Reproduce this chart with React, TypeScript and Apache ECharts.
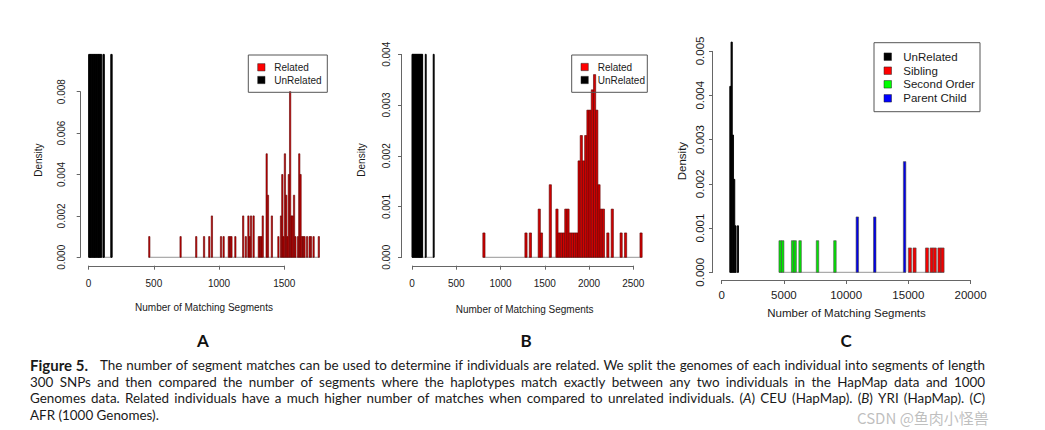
import React, { useEffect, useRef } from "react";
import * as echarts from "echarts";

// ---------- Panel A: CEU (HapMap) histogram bins [start, end, density] ----------
const aUnrelated = [
  [0, 10, 0.0098], [10, 20, 0.0098], [20, 30, 0.0098], [30, 40, 0.0098], [40, 50, 0.0098],
  [50, 60, 0.0098], [60, 70, 0.0098], [70, 80, 0.0098], [80, 90, 0.0098], [90, 100, 0.0098],
  [110, 120, 0.0098], [170, 180, 0.0098],
];
const aUnrelatedRange = [0, 180];
const aRelated = [
  [460, 470, 0.001], [700, 710, 0.001], [820, 830, 0.001], [880, 890, 0.001], [920, 930, 0.001],
  [940, 950, 0.002], [1010, 1020, 0.001], [1030, 1040, 0.001], [1070, 1080, 0.001], [1080, 1090, 0.001],
  [1090, 1100, 0.001], [1120, 1130, 0.001], [1180, 1190, 0.002], [1200, 1210, 0.001], [1220, 1230, 0.002],
  [1230, 1240, 0.001], [1240, 1250, 0.002], [1260, 1270, 0.002], [1300, 1310, 0.001], [1310, 1320, 0.001],
  [1320, 1330, 0.001], [1330, 1340, 0.002], [1360, 1370, 0.005], [1370, 1380, 0.003], [1400, 1410, 0.002],
  [1450, 1460, 0.001], [1470, 1480, 0.002], [1480, 1490, 0.004], [1490, 1500, 0.001], [1500, 1510, 0.005],
  [1510, 1520, 0.003], [1520, 1530, 0.001], [1530, 1540, 0.004], [1540, 1550, 0.008], [1550, 1560, 0.002],
  [1560, 1570, 0.002], [1570, 1580, 0.003], [1580, 1590, 0.001], [1600, 1610, 0.001], [1610, 1620, 0.005],
  [1620, 1630, 0.004], [1630, 1640, 0.001], [1640, 1650, 0.001], [1650, 1660, 0.001], [1670, 1680, 0.001],
  [1690, 1700, 0.001], [1700, 1710, 0.001], [1720, 1730, 0.001], [1760, 1770, 0.001],
];
const aRelatedRange = [460, 1770];
const aXTicks = [0, 500, 1000, 1500];
const aYTicks = [0, 0.002, 0.004, 0.006, 0.008];

// ---------- Panel B: YRI (HapMap) ----------
const bUnrelated = [
  [0, 10, 0.004], [10, 20, 0.004], [20, 30, 0.004], [30, 40, 0.004], [40, 50, 0.004], [50, 60, 0.004],
  [60, 70, 0.004], [70, 80, 0.004], [80, 90, 0.004], [90, 100, 0.004], [100, 110, 0.004], [110, 120, 0.004],
  [150, 160, 0.004], [240, 250, 0.004],
];
const bUnrelatedRange = [0, 250];
const bRelated = [
  [800, 825, 0.00048], [1275, 1300, 0.00048], [1325, 1350, 0.00048], [1425, 1450, 0.00095], [1450, 1475, 0.00048],
  [1550, 1575, 0.00143], [1625, 1650, 0.00095], [1650, 1675, 0.00048], [1675, 1700, 0.00048], [1700, 1725, 0.00048],
  [1725, 1750, 0.00095], [1750, 1775, 0.00095], [1775, 1800, 0.00048], [1800, 1825, 0.00048], [1825, 1850, 0.00048],
  [1850, 1875, 0.00048], [1875, 1900, 0.0019], [1900, 1925, 0.0024], [1925, 1950, 0.0019], [1950, 1975, 0.0024],
  [1975, 2000, 0.0029], [2000, 2025, 0.0029], [2025, 2050, 0.0033], [2050, 2075, 0.0036], [2075, 2100, 0.0029],
  [2100, 2125, 0.00143], [2125, 2150, 0.00095], [2150, 2175, 0.00095], [2200, 2225, 0.00048], [2250, 2275, 0.00095],
  [2350, 2375, 0.00048], [2400, 2425, 0.00048], [2575, 2600, 0.00048],
];
const bRelatedRange = [800, 2600];
const bXTicks = [0, 500, 1000, 1500, 2000, 2500];
const bYTicks = [0, 0.001, 0.002, 0.003, 0.004];

// ---------- Panel C: AFR (1000 Genomes) ----------
const cUnrelated = [
  [650, 750, 0.0042], [750, 850, 0.0052], [850, 950, 0.0031], [950, 1050, 0.0021],
  [1050, 1150, 0.00105], [1250, 1350, 0.00105],
];
const cUnrelatedRange = [650, 1350];
const cSecondOrder = [
  [4600, 4800, 0.000714], [4800, 5000, 0.000714], [5600, 5800, 0.000714], [5800, 6000, 0.000714],
  [6200, 6400, 0.000714], [7600, 7800, 0.000714], [9000, 9200, 0.000714],
];
const cSecondOrderRange = [4600, 9200];
const cParentChild = [
  [10800, 11000, 0.00125], [12200, 12400, 0.00125], [14600, 14800, 0.0025],
];
const cParentChildRange = [9000, 14800];
const cSibling = [
  [15000, 15250, 0.00055], [15375, 15625, 0.00055], [16375, 16625, 0.00055], [16750, 17000, 0.00055],
  [17000, 17250, 0.00055], [17375, 17625, 0.00055], [17625, 17875, 0.00055],
];
const cSiblingRange = [15000, 17875];
const cXTicks = [0, 5000, 10000, 15000, 20000];
const cYTicks = [0, 0.001, 0.002, 0.003, 0.004, 0.005];

// ---------- Text ----------
const legendAB = ["Related", "UnRelated"];
const legendC = ["UnRelated", "Sibling", "Second Order", "Parent Child"];
const panelLetters = ["A", "B", "C"];
const xTitle = "Number of Matching Segments";
const yTitle = "Density";
const captionBold = "Figure 5.";
const captionLines = [
  "The number of segment matches can be used to determine if individuals are related. We split the genomes of each individual into segments of length",
  "300 SNPs and then compared the number of segments where the haplotypes match exactly between any two individuals in the HapMap data and 1000",
  "Genomes data. Related individuals have a much higher number of matches when compared to unrelated individuals. (A) CEU (HapMap). (B) YRI (HapMap). (C)",
  "AFR (1000 Genomes).",
];
const watermark = "CSDN @鱼肉小怪兽";

const RFONT = '"Liberation Sans", Arial, Helvetica, sans-serif';
const CFONT = 'Lato, "Open Sans", sans-serif';
const AXIS_COLOR = "#666";
const TEXT_COLOR = "#1a1a1a";

function histSeries(bins: number[][], idx: number, fill: string, stroke: string, lw: number) {
  return {
    type: "custom",
    xAxisIndex: idx,
    yAxisIndex: idx,
    z: 3,
    silent: true,
    data: bins,
    encode: { x: [0, 1], y: 2 },
    renderItem: (params: any, api: any) => {
      const lo = api.coord([api.value(0), 0]);
      const hi = api.coord([api.value(1), api.value(2)]);
      const cs = params.coordSys;
      const shape = echarts.graphic.clipRectByRect(
        { x: lo[0], y: hi[1], width: hi[0] - lo[0], height: lo[1] - hi[1] },
        { x: cs.x, y: cs.y, width: cs.width, height: cs.height }
      );
      if (!shape) return null;
      return { type: "rect", shape, style: { fill, stroke, lineWidth: lw } };
    },
  };
}

function baseSeries(range: number[], idx: number) {
  return {
    type: "custom",
    xAxisIndex: idx,
    yAxisIndex: idx,
    z: 2,
    silent: true,
    data: [range],
    encode: { x: [0, 1] },
    renderItem: (_p: any, api: any) => {
      const a = api.coord([api.value(0), 0]);
      const b = api.coord([api.value(1), 0]);
      return {
        type: "line",
        shape: { x1: a[0], y1: a[1], x2: b[0], y2: b[1] },
        style: { stroke: "#8a8a8a", lineWidth: 0.9 },
      };
    },
  };
}

function axisSeries(idx: number, xt: number[], yt: number[]) {
  return {
    type: "custom",
    xAxisIndex: idx,
    yAxisIndex: idx,
    z: 4,
    silent: true,
    clip: false,
    data: [[xt[0], xt[xt.length - 1], yt[0], yt[yt.length - 1]]],
    encode: { x: [0, 1], y: [2, 3] },
    renderItem: (params: any, api: any) => {
      const cs = params.coordSys;
      const bottom = Math.round(cs.y + cs.height) + 0.5;
      const left = Math.round(cs.x) - 0.5;
      const xa = api.coord([api.value(0), api.value(2)])[0];
      const xb = api.coord([api.value(1), api.value(2)])[0];
      const ya = api.coord([api.value(0), api.value(2)])[1];
      const yb = api.coord([api.value(0), api.value(3)])[1];
      return {
        type: "group",
        children: [
          { type: "line", shape: { x1: xa, y1: bottom, x2: xb, y2: bottom }, style: { stroke: AXIS_COLOR, lineWidth: 1 } },
          { type: "line", shape: { x1: left, y1: ya, x2: left, y2: yb }, style: { stroke: AXIS_COLOR, lineWidth: 1 } },
        ],
      };
    },
  };
}

function xAxisCfg(idx: number, min: number, max: number, ticks: number[], fs: number, margin: number, gap: number) {
  return {
    gridIndex: idx,
    type: "value",
    min,
    max,
    axisLine: { show: false, onZero: false },
    axisTick: { show: true, customValues: ticks, length: 4, lineStyle: { color: AXIS_COLOR, width: 1 } },
    axisLabel: {
      customValues: ticks,
      margin,
      fontSize: fs,
      fontFamily: RFONT,
      color: TEXT_COLOR,
      formatter: (v: number) => String(v),
    },
    splitLine: { show: false },
    name: xTitle,
    nameLocation: "middle",
    nameGap: gap,
    nameTextStyle: { fontSize: fs, fontFamily: RFONT, color: TEXT_COLOR },
  };
}

function yAxisCfg(idx: number, min: number, max: number, ticks: number[], fs: number, margin: number, gap: number) {
  return {
    gridIndex: idx,
    type: "value",
    min,
    max,
    axisLine: { show: false, onZero: false },
    axisTick: { show: true, customValues: ticks, length: 4, lineStyle: { color: AXIS_COLOR, width: 1 } },
    axisLabel: {
      customValues: ticks,
      rotate: 90,
      margin,
      fontSize: fs,
      fontFamily: RFONT,
      color: TEXT_COLOR,
      formatter: (v: number) => v.toFixed(3),
    },
    splitLine: { show: false },
    name: yTitle,
    nameLocation: "middle",
    nameRotate: 90,
    nameGap: gap,
    nameTextStyle: { fontSize: fs, fontFamily: RFONT, color: TEXT_COLOR },
  };
}

function legendEls(box: number[], swX: number, sw: number, txtX: number, rows: number[], names: string[], colors: string[], fs: number) {
  const els: any[] = [
    { type: "rect", shape: { x: box[0], y: box[1], width: box[2], height: box[3] }, style: { fill: "none", stroke: "#555", lineWidth: 1 }, z: 10 },
  ];
  names.forEach((n, i) => {
    els.push({ type: "rect", shape: { x: swX, y: rows[i] - sw / 2, width: sw, height: sw }, style: { fill: colors[i], stroke: "#222", lineWidth: 0.5 }, z: 10 });
    els.push({ type: "text", x: txtX, y: rows[i], style: { text: n, fontSize: fs, fontFamily: RFONT, fill: TEXT_COLOR, verticalAlign: "middle", align: "left" }, z: 10 });
  });
  return els;
}

function captionEls() {
  const canvas = document.createElement("canvas");
  const ctx = canvas.getContext("2d") as CanvasRenderingContext2D;
  const fontOf = (size: number, italic: boolean, bold = false) =>
    `${italic ? "italic " : ""}${bold ? 700 : 400} ${size}px ${CFONT}`;
  const measureAt = (size: number, t: string, italic: boolean, bold = false) => {
    ctx.font = fontOf(size, italic, bold);
    return ctx.measureText(t).width;
  };
  const ys = [365, 381.5, 398, 414.5];
  const x0 = 30;
  const x1 = 985;
  const boldSize = 15;
  const boldW = measureAt(boldSize, captionBold, false, true);
  const firstStart = x0 + boldW + 12;

  let ratio = Infinity;
  captionLines.slice(0, captionLines.length - 1).forEach((line, li) => {
    const start = li === 0 ? firstStart : x0;
    const w = measureAt(10, line, false);
    ratio = Math.min(ratio, ((x1 - start) * 0.985) / w);
  });
  const size = Math.min(13.5, 10 * ratio);
  const measure = (t: string, italic: boolean) => measureAt(size, t, italic);

  const els: any[] = [
    { type: "text", x: x0, y: ys[0], style: { text: captionBold, fontSize: boldSize, fontWeight: "bold", fontFamily: CFONT, fill: TEXT_COLOR, verticalAlign: "middle" } },
  ];
  captionLines.forEach((line, li) => {
    const words = line.split(" ");
    const segsOf = (w: string) => {
      const m = /^\(([A-Z])\)$/.exec(w);
      if (m) return [{ t: "(", i: false }, { t: m[1], i: true }, { t: ")", i: false }];
      return [{ t: w, i: false }];
    };
    const wordSegs = words.map(segsOf);
    const widths = wordSegs.map((s) => s.reduce((acc, g) => acc + measure(g.t, g.i), 0));
    const total = widths.reduce((a, b) => a + b, 0);
    const start = li === 0 ? firstStart : x0;
    const justify = li < captionLines.length - 1;
    const gap = justify ? (x1 - start - total) / (words.length - 1) : measure(" ", false);
    let x = start;
    wordSegs.forEach((segs, wi) => {
      let sx = x;
      segs.forEach((g) => {
        els.push({
          type: "text",
          x: sx,
          y: ys[li],
          style: { text: g.t, fontSize: size, fontStyle: g.i ? "italic" : "normal", fontFamily: CFONT, fill: TEXT_COLOR, verticalAlign: "middle", align: "left" },
        });
        sx += measure(g.t, g.i);
      });
      x += widths[wi] + gap;
    });
  });
  return els;
}

export default function App() {
  const ref = useRef<HTMLDivElement>(null);
  useEffect(() => {
    if (!ref.current) return;
    const chart = echarts.init(ref.current, undefined, { renderer: "svg" });
    const relFill = "#d30000";
    const relStroke = "#5a0000";
    const option: any = {
      animation: false,
      backgroundColor: "#ffffff",
      grid: [
        { left: 80.7, top: 54.4, width: 246.6, height: 211.3 },
        { left: 402, top: 54.3, width: 245.3, height: 211.4 },
        { left: 713, top: 42.1, width: 267, height: 237.9 },
      ],
      xAxis: [
        xAxisCfg(0, -61, 1830, aXTicks, 10, 12.5, 37),
        xAxisCfg(1, -113, 2658, bXTicks, 10, 13, 38.5),
        xAxisCfg(2, -700, 20760, cXTicks, 11.5, 8.5, 27),
      ],
      yAxis: [
        yAxisCfg(0, -0.000406, 0.0098, aYTicks, 10, 14, 37),
        yAxisCfg(1, -0.0001655, 0.004, bYTicks, 10, 10.5, 36),
        yAxisCfg(2, -0.000174, 0.0052, cYTicks, 11.5, 7, 25),
      ],
      series: [
        baseSeries(aUnrelatedRange, 0),
        baseSeries(aRelatedRange, 0),
        histSeries(aUnrelated, 0, "#000000", "#000000", 1),
        histSeries(aRelated, 0, relFill, relStroke, 0.6),
        axisSeries(0, aXTicks, aYTicks),

        baseSeries(bUnrelatedRange, 1),
        baseSeries(bRelatedRange, 1),
        histSeries(bUnrelated, 1, "#000000", "#000000", 1),
        histSeries(bRelated, 1, relFill, relStroke, 0.6),
        axisSeries(1, bXTicks, bYTicks),

        baseSeries(cUnrelatedRange, 2),
        baseSeries(cSecondOrderRange, 2),
        baseSeries(cParentChildRange, 2),
        baseSeries(cSiblingRange, 2),
        histSeries(cUnrelated, 2, "#000000", "#000000", 0.9),
        histSeries(cSecondOrder, 2, "#00e600", "#4a4a4a", 0.6),
        histSeries(cParentChild, 2, "#0000e6", "#4a4a4a", 0.6),
        histSeries(cSibling, 2, "#f00000", "#4a4a4a", 0.6),
        axisSeries(2, cXTicks, cYTicks),
      ],
      graphic: {
        elements: [
          ...legendEls([248.3, 55, 79, 37.3], 257.7, 7.3, 274.3, [67.3, 80], legendAB, ["#ff0000", "#000000"], 10),
          ...legendEls([571.7, 55, 75.6, 37.3], 581, 7.3, 597.7, [67, 80], legendAB, ["#ff0000", "#000000"], 10),
          ...legendEls([874, 42.7, 106, 69], 884, 7.5, 903.3, [56.7, 70.7, 84.3, 98.3], legendC, ["#000000", "#ff0000", "#00ff00", "#0000ff"], 11.5),
          ...panelLetters.map((t, i) => ({
            type: "text",
            x: [203, 526, 846][i],
            y: 340,
            style: { text: t, fontSize: 17, fontWeight: "bold", fontFamily: CFONT, fill: "#111", align: "center", verticalAlign: "middle" },
          })),
          ...captionEls(),
          {
            type: "text",
            x: 857,
            y: 417.5,
            style: { text: watermark, fontSize: 15, fontFamily: '"Noto Sans CJK SC", sans-serif', fill: "rgba(170,170,170,0.75)", verticalAlign: "middle", align: "left" },
          },
        ],
      },
    };
    chart.setOption(option);
    return () => chart.dispose();
  }, []);
  return <div ref={ref} style={{ position: "absolute", left: 0, top: 0, width: 1045, height: 430 }} />;
}
